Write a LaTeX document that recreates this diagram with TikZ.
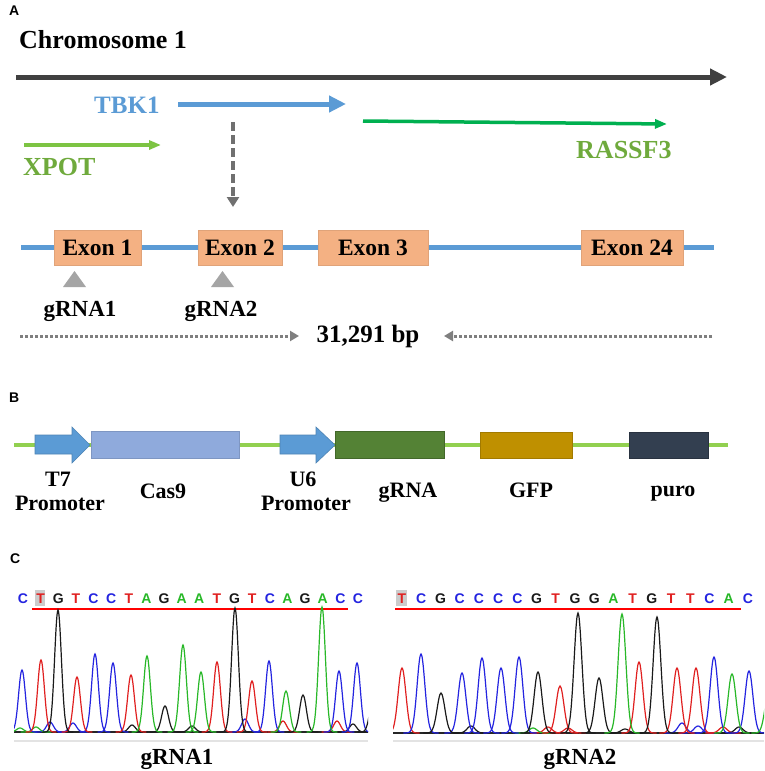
\documentclass[tikz,border=0pt]{standalone}
\usepackage{fontspec}
\setmainfont{Liberation Serif}
\newfontfamily\panelfont{Liberation Sans}
\usetikzlibrary{arrows.meta}
\definecolor{chrom}{HTML}{404040}
\definecolor{tbk}{HTML}{5B9BD5}
\definecolor{rassf}{HTML}{00B050}
\definecolor{rassftxt}{HTML}{6FAA3C}
\definecolor{xpotarr}{HTML}{7DC443}
\definecolor{xpottxt}{HTML}{6FAA3C}
\definecolor{exonfill}{HTML}{F4B183}
\definecolor{tri}{HTML}{A5A5A5}
\definecolor{dgrey}{HTML}{7F7F7F}
\definecolor{dashgrey}{HTML}{707070}
\definecolor{vecline}{HTML}{92D050}
\definecolor{prom}{HTML}{5B9BD5}
\definecolor{cas}{HTML}{8FAADC}
\definecolor{grna}{HTML}{548235}
\definecolor{gfp}{HTML}{BF9000}
\definecolor{puro}{HTML}{333F50}
\definecolor{seqC}{HTML}{2424E0}
\definecolor{seqT}{HTML}{E02020}
\definecolor{seqG}{HTML}{1A1A1A}
\definecolor{seqA}{HTML}{28B828}
\newcommand\myfs[1]{\fontsize{#1}{#1}\selectfont}
\newcommand\mypk[5]{%
  \pgfmathsetmacro\pka{#2-3.2*#5}%
  \pgfmathsetmacro\pkb{#2+3.2*#5}%
  \draw[#1,trace] plot[domain=\pka:\pkb,samples=33,smooth] (\x,{#4-(#4-#3)*exp(-((\x-#2)/#5)^2)});}
\begin{document}
\begin{tikzpicture}[x=1pt,y=-1pt,
  lbl/.style={inner sep=0pt,font=\myfs{23}\bfseries},
  panel/.style={inner sep=0pt,anchor=base west,font=\panelfont\myfs{14}\bfseries},
  exon/.style={fill=exonfill,draw=exonfill!92!black,line width=0.6pt,inner sep=0pt,minimum height=35pt,font=\myfs{23.5}\bfseries},
  vbox/.style={inner sep=0pt,minimum height=27pt,line width=0.8pt},
  trace/.style={line width=1.2pt},
  seq/.style={inner sep=0pt,anchor=base,font=\panelfont\myfs{14}\bfseries},
  blbl/.style={inner sep=0pt,anchor=base,font=\myfs{22}\bfseries},
]
\fill[white] (0,0) rectangle (765,771);
\useasboundingbox (0,0) rectangle (765,771);

% ---------------- Panel A
\node[panel] (labA) at (9,16) {A};
\node[lbl,font=\myfs{26}\bfseries,anchor=base west] (chromt) at (19,48) {Chromosome 1};
\coordinate (chS) at (16,77); \coordinate (chE) at (727,77);
\draw[chrom,line width=5pt,-{Triangle[length=17pt,width=16pt]}] (chS) -- (chE);

\node[lbl,font=\myfs{25}\bfseries,text=tbk,anchor=base west] (tbkt) at (94,113) {TBK1};
\coordinate (tbS) at (178,104); \coordinate (tbE) at (346,104);
\draw[tbk,line width=5pt,-{Triangle[length=17pt,width=16pt]}] (tbS) -- (tbE);

\coordinate (raS) at (363,121); \coordinate (raE) at (667,124);
\draw[rassf,line width=3.5pt,-{Triangle[length=12pt,width=9pt]}] (raS) -- (raE);
\node[lbl,font=\myfs{26}\bfseries,text=rassftxt,anchor=base west] (rat) at (576,158) {RASSF3};

\coordinate (xpS) at (24,145); \coordinate (xpE) at (161,145);
\draw[xpotarr,line width=3.5pt,-{Triangle[length=12pt,width=9pt]}] (xpS) -- (xpE);
\node[lbl,font=\myfs{26}\bfseries,text=xpottxt,anchor=base west] (xpt) at (23,175) {XPOT};

\coordinate (dS) at (233,122); \coordinate (dE) at (233,207);
\draw[dashgrey,line width=3.5pt,dash pattern=on 9pt off 4pt,-{Triangle[length=10pt,width=12pt]}] (dS) -- (dE);

\coordinate (exS) at (21,247); \coordinate (exE) at (714,247);
\draw[tbk,line width=5pt] (exS) -- (exE);
\node[exon,minimum width=87pt] (ex1) at (97.5,247.5) {Exon 1};
\node[exon,minimum width=84pt] (ex2) at (240,247.5) {Exon 2};
\node[exon,minimum width=110pt] (ex3) at (373,247.5) {Exon 3};
\node[exon,minimum width=102pt] (ex24) at (632,247.5) {Exon 24};

\fill[tri] (63,287) -- (86,287) -- (74.5,271) -- cycle;
\fill[tri] (211,287) -- (234,287) -- (222.5,271) -- cycle;
\node[lbl,anchor=base] (g1) at (80,316) {gRNA1};
\node[lbl,anchor=base] (g2) at (221,316) {gRNA2};

\node[lbl,font=\myfs{25}\bfseries,anchor=base] (bp) at (368,342) {31,291 bp};
\coordinate (dlS) at (20,336); \coordinate (dlE) at (299,336);
\coordinate (drS) at (712,336); \coordinate (drE) at (444,336);
\draw[dgrey,line width=3pt,dash pattern=on 3pt off 2pt,-{Triangle[length=9pt,width=10pt]}] (dlS) -- (dlE);
\draw[dgrey,line width=3pt,dash pattern=on 3pt off 2pt,-{Triangle[length=9pt,width=10pt]}] (drS) -- (drE);

% ---------------- Panel B
\node[panel] (labB) at (9,402) {B};
\coordinate (vS) at (14,445); \coordinate (vE) at (728,445);
\draw[vecline,line width=4pt] (vS) -- (vE);
\filldraw[fill=prom,draw=prom!85!black,line width=0.6pt] (35,435) -- (72,435) -- (72,427) -- (90,445) -- (72,463) -- (72,454) -- (35,454) -- cycle;
\filldraw[fill=prom,draw=prom!85!black,line width=0.6pt] (280,435) -- (316,435) -- (316,427) -- (335,445) -- (316,463) -- (316,454) -- (280,454) -- cycle;
\node[vbox,fill=cas,draw=cas!88!black,minimum width=148pt] (cas9) at (165,444.5) {};
\node[vbox,fill=grna,draw=grna!80!black,minimum width=109pt] (grnab) at (389.5,444.5) {};
\node[vbox,fill=gfp,draw=gfp!85!black,minimum width=92pt,minimum height=26pt] (gfpb) at (526,445) {};
\node[vbox,fill=puro,draw=puro!80!black,minimum width=79pt,minimum height=26pt] (purob) at (668.5,445) {};
\node[blbl] (t7) at (58,486) {T7};
\node[blbl] (p1) at (60,510) {Promoter};
\node[blbl] (cas9t) at (163,498) {Cas9};
\node[blbl] (u6) at (303,486) {U6};
\node[blbl] (p2) at (306,510) {Promoter};
\node[blbl] (grnat) at (408,497) {gRNA};
\node[blbl] (gfpt) at (531,497) {GFP};
\node[blbl] (purot) at (673,496) {puro};

% ---------------- Panel C
\node[panel] (labC) at (10,563) {C};
\fill[gray!40] (35,590) rectangle (45,606);
\fill[gray!40] (396,590) rectangle (407,606);
\foreach \l [count=\i from 0] in {C,T,G,T,C,C,T,A,G,A,A,T,G,T,C,A,G,A,C,C}
  \node[seq,text=seq\l] (La\i) at ({23+17.63*\i},603) {\l};
\foreach \l [count=\i from 0] in {T,C,G,C,C,C,C,G,T,G,G,A,T,G,T,T,C,A,C}
  \node[seq,text=seq\l] (Rb\i) at ({402+19.22*\i},603) {\l};
\coordinate (ulS) at (32,609); \coordinate (ulE) at (348,609);
\coordinate (urS) at (395,609); \coordinate (urE) at (741,609);
\draw[red,line width=2pt] (ulS) -- (ulE);
\draw[red,line width=2pt] (urS) -- (urE);

% left chromatogram
\begin{scope}
\clip (14,560) rectangle (368,736);
\draw[black!85,line width=1.4pt] (14,732) -- (368,732);
\foreach \c/\t in {50/722,73/723,245/719} \mypk{seqC}{\c}{\t}{732}{4.8};
\foreach \c/\t in {283/721,337/721} \mypk{seqT}{\c}{\t}{732}{4.8};
\foreach \c/\t in {132/725,192/726,353/724} \mypk{seqG}{\c}{\t}{732}{4.8};
\foreach \c/\t in {36/727,20/728} \mypk{seqA}{\c}{\t}{732}{4.8};
\foreach \c/\t in {22/670,95/654,113/663,269/661,339/671,357/663} \mypk{seqC}{\c}{\t}{732}{4.8};
\foreach \c/\t in {41/660,77/677,131/675,217/662,252/681} \mypk{seqT}{\c}{\t}{732}{4.8};
\foreach \c/\t in {58/610,165/706,235/608,303/695,373/700} \mypk{seqG}{\c}{\t}{732}{4.8};
\foreach \c/\t in {147/656,183/645,201/672,286/691,322/607} \mypk{seqA}{\c}{\t}{732}{4.8};
\end{scope}

% right chromatogram
\begin{scope}
\clip (393,560) rectangle (764,737);
\draw[black!85,line width=1.4pt] (393,733) -- (764,733);
\foreach \c/\t in {682/723,698/726} \mypk{seqC}{\c}{\t}{733}{5.5};
\foreach \c/\t in {723/727,548/727,568/728} \mypk{seqT}{\c}{\t}{733}{5.5};
\foreach \c/\t in {471/726,739/727,625/729} \mypk{seqG}{\c}{\t}{733}{5.5};
\foreach \c/\t in {533/728} \mypk{seqA}{\c}{\t}{733}{5.5};
\foreach \c/\t in {402/668,560/686,639/662,677/668,696/668} \mypk{seqT}{\c}{\t}{733}{5.5};
\foreach \c/\t in {421/654,462/673,482/658,501/668,519/657,714/657,749/671} \mypk{seqC}{\c}{\t}{733}{5.5};
\foreach \c/\t in {441/693,538/672,578/613,599/678,657/617} \mypk{seqG}{\c}{\t}{733}{5.5};
\foreach \c/\t in {622/614,732/674,769/690} \mypk{seqA}{\c}{\t}{733}{5.5};
\end{scope}

\coordinate (slS) at (14,741); \coordinate (slE) at (368,741);
\coordinate (srS) at (393,741); \coordinate (srE) at (764,741);
\draw[gray!22,line width=1.5pt] (slS) -- (slE);
\draw[gray!22,line width=1.5pt] (srS) -- (srE);
\node[lbl,anchor=base] (c1) at (177,764) {gRNA1};
\node[lbl,anchor=base] (c2) at (580,764) {gRNA2};
\end{tikzpicture}
\end{document}
